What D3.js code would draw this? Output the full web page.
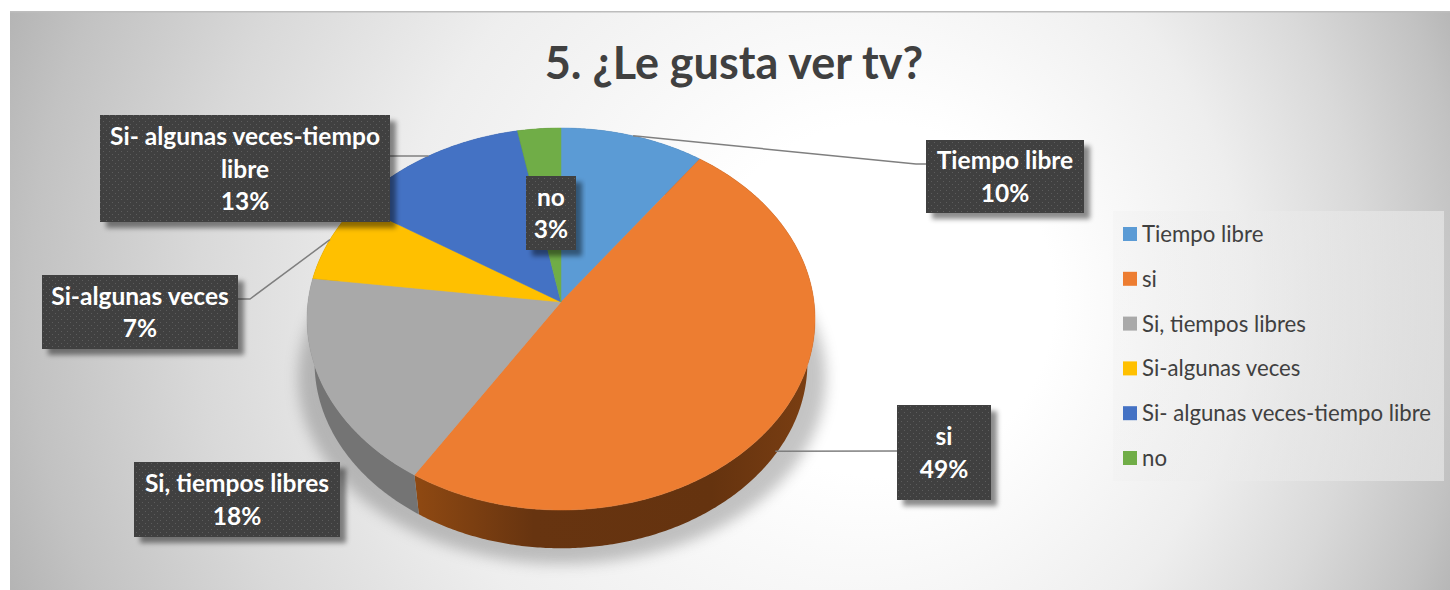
<!DOCTYPE html>
<html>
<head>
<meta charset="utf-8">
<script src="https://cdn.jsdelivr.net/npm/d3@7"></script>
<style>
  html, body { margin: 0; padding: 0; background: #fff; }
  svg { display: block; }
  text { font-family: Lato, "Open Sans", sans-serif; }
</style>
</head>
<body>
<svg></svg>
<script>
// Chart values
const categories = ["Tiempo libre", "si", "Si, tiempos libres", "Si-algunas veces", "Si- algunas veces-tiempo libre", "no"];
const values = [10, 49, 18, 7, 13, 3];
const colors = ["#5B9BD5", "#ED7D31", "#A9A9A9", "#FFC000", "#4472C4", "#70AD47"];
const wallColors = ["#3a5f82", "url(#wallOrange)", "#747474", "#7a5c00", "#2a4577", "#44692b"];
const titleText = "5. ¿Le gusta ver tv?";

// Label boxes, same order as categories. Long names wrap by hand like the original
const labelLines = [["Tiempo libre"], ["si"], ["Si, tiempos libres"], ["Si-algunas veces"], ["Si- algunas veces-tiempo", "libre"], ["no"]];
const labelBoxes = [
  { x: 926, y: 140, w: 158, h: 73 },
  { x: 897, y: 405, w: 94, h: 95 },
  { x: 134, y: 462, w: 206, h: 75 },
  { x: 42, y: 275, w: 196, h: 74 },
  { x: 100, y: 115, w: 290, h: 107 },
  { x: 526, y: 176, w: 50, h: 74 }
];

const width = 1450, height = 590;
const svg = d3.select("svg").attr("width", width).attr("height", height);
const defs = svg.append("defs");

// Background gradient, brightest part sits right of the middle
const bg = defs.append("radialGradient").attr("id", "bg")
  .attr("gradientUnits", "userSpaceOnUse")
  .attr("cx", 730).attr("cy", 300).attr("r", 800)
  .attr("fx", 920).attr("fy", 300);
[[0, "#ffffff"], [0.22, "#ffffff"], [0.53, "#eeeeee"], [0.73, "#d9d9d9"], [0.9, "#c2c2c2"], [1, "#b0b0b0"]].forEach(s =>
  bg.append("stop").attr("offset", s[0]).attr("stop-color", s[1]));

const wallOrange = defs.append("linearGradient").attr("id", "wallOrange")
  .attr("gradientUnits", "userSpaceOnUse").attr("x1", 415).attr("x2", 810).attr("y1", 0).attr("y2", 0);
[[0, "#8f4912"], [0.3, "#673410"], [0.75, "#65330f"], [1, "#7a3e12"]].forEach(s =>
  wallOrange.append("stop").attr("offset", s[0]).attr("stop-color", s[1]));

// Legend panel fades out towards the white part of the background
const legendFill = defs.append("linearGradient").attr("id", "legendFill");
[[0, 0.25], [1, 0.6]].forEach(s =>
  legendFill.append("stop").attr("offset", s[0]).attr("stop-color", "#ececec").attr("stop-opacity", s[1]));

// Dotted texture of the label boxes
const dots = defs.append("pattern").attr("id", "dots")
  .attr("patternUnits", "userSpaceOnUse").attr("width", 6).attr("height", 6);
dots.append("rect").attr("width", 6).attr("height", 6).attr("fill", "#404040");
dots.append("rect").attr("x", 1).attr("y", 1).attr("width", 1).attr("height", 1).attr("fill", "#5c5c5c");
dots.append("rect").attr("x", 4).attr("y", 4).attr("width", 1).attr("height", 1).attr("fill", "#5c5c5c");

defs.append("filter").attr("id", "boxShadow")
  .attr("x", "-20%").attr("y", "-20%").attr("width", "140%").attr("height", "140%")
  .append("feDropShadow").attr("dx", 6).attr("dy", 6).attr("stdDeviation", 2.5)
  .attr("flood-color", "#000").attr("flood-opacity", 0.45);
defs.append("filter").attr("id", "pieShadow")
  .attr("x", "-20%").attr("y", "-20%").attr("width", "140%").attr("height", "140%")
  .append("feGaussianBlur").attr("stdDeviation", 7);

svg.append("rect").attr("x", 10).attr("y", 11).attr("width", width - 10).attr("height", height - 11)
  .attr("fill", "url(#bg)");
svg.append("rect").attr("x", 10).attr("y", 11).attr("width", width - 10).attr("height", 1.5)
  .attr("fill", "#bdbdbd");

// Title
svg.append("text").attr("x", 734).attr("y", 78.5).attr("text-anchor", "middle")
  .attr("font-size", 45).attr("font-weight", 700).attr("fill", "#404040")
  .text(titleText);

// Pie in perspective: apex is above the centre of the ellipse
const apex = { x: 561, y: 302 }, rx = 253, ry = 189.5, tilt = 0.089;
const depth = 44.5, bottomScale = 0.97;

function project(angle, scale, dy) {
  const u = Math.sin(angle), v = -Math.cos(angle);
  const w = 1 / (1 - tilt * v);
  return [apex.x + scale * rx * u * w, apex.y + dy + scale * ry * v * w];
}

const pie = d3.pie().sort(null)(values);
const line = d3.line();
const arcAngles = d => d3.range(d.startAngle, d.endAngle, 0.01).concat([d.endAngle]);

// Soft shadow under the pie
svg.append("ellipse").attr("cx", 562).attr("cy", 378).attr("rx", 264).attr("ry", 186)
  .attr("fill", "#666").attr("opacity", 0.38).attr("filter", "url(#pieShadow)");

// Side wall
svg.append("g").selectAll("path").data(pie).join("path")
  .attr("d", d => {
    const a = arcAngles(d);
    return line(a.map(t => project(t, 1, 0)).concat(a.slice().reverse().map(t => project(t, bottomScale, depth)))) + "Z";
  })
  .attr("fill", (d, i) => wallColors[i]);

// Top face
svg.append("g").selectAll("path").data(pie).join("path")
  .attr("d", d => line([[apex.x, apex.y]].concat(arcAngles(d).map(t => project(t, 1, 0)))) + "Z")
  .attr("fill", (d, i) => colors[i])
  .attr("stroke", (d, i) => colors[i]).attr("stroke-width", 0.5);

// Leader lines, they start on the rim at the middle of the slice
const midAngle = d => (d.startAngle + d.endAngle) / 2;
const leaders = [
  { i: 0, end: [[916, 164], [926, 164]] },
  { i: 1, end: [[897, 451]], onWall: true },
  { i: 3, end: [[250, 299], [238, 299]] },
  { i: 4, end: [[390, 156]] }
];
svg.append("g").selectAll("path").data(leaders).join("path")
  .attr("d", d => {
    const top = project(midAngle(pie[d.i]), 1, 0);
    const low = project(midAngle(pie[d.i]), bottomScale, depth);
    const start = d.onWall ? d3.interpolate(top, low)(0.9) : top;
    return line([start].concat(d.end));
  })
  .attr("fill", "none").attr("stroke", "#7f7f7f").attr("stroke-width", 1.5);

// Data labels
const fmt = d3.format(".0%"), total = d3.sum(values);
const labels = svg.append("g").selectAll("g").data(pie).join("g");
labels.append("rect")
  .attr("x", (d, i) => labelBoxes[i].x).attr("y", (d, i) => labelBoxes[i].y)
  .attr("width", (d, i) => labelBoxes[i].w).attr("height", (d, i) => labelBoxes[i].h)
  .attr("fill", "url(#dots)").attr("filter", "url(#boxShadow)");
labels.each(function (d, i) {
  const rows = labelLines[i].concat([fmt(d.value / total)]);
  const box = labelBoxes[i];
  const rowH = 32.5;
  const first = box.y + box.h / 2 - (rows.length - 1) * rowH / 2 + 9;
  d3.select(this).selectAll("text").data(rows).join("text")
    .attr("x", box.x + box.w / 2)
    .attr("y", (r, j) => first + j * rowH)
    .attr("text-anchor", "middle")
    .attr("font-size", 24.5).attr("font-weight", 700).attr("fill", "#fff")
    .text(r => r);
});

// Legend
svg.append("rect").attr("x", 1113).attr("y", 211).attr("width", 331).attr("height", 270)
  .attr("fill", "url(#legendFill)");
const legendY = d3.scalePoint().domain(categories).range([234, 458]);
const legend = svg.append("g").selectAll("g").data(categories).join("g")
  .attr("transform", d => `translate(1123, ${legendY(d)})`);
legend.append("rect").attr("y", -7).attr("width", 14).attr("height", 14)
  .attr("fill", (d, i) => colors[i]);
legend.append("text").attr("x", 19).attr("y", 8)
  .attr("font-size", 22.2).attr("fill", "#404040")
  .text(d => d);
</script>
</body>
</html>
